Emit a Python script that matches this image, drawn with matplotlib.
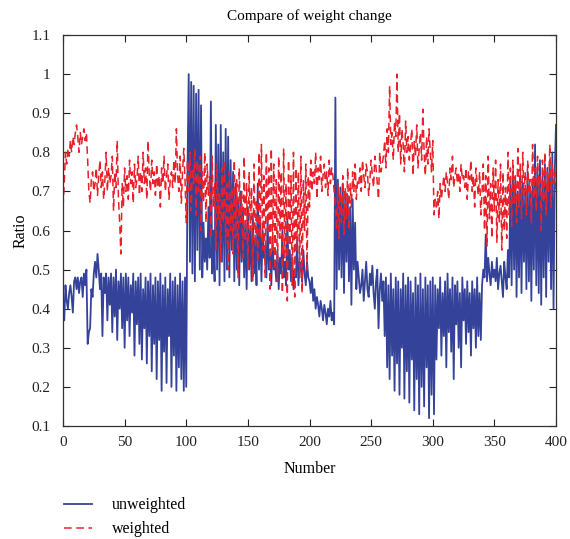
import matplotlib
matplotlib.use("Agg")
import matplotlib.pyplot as plt
import numpy as np

plt.rcParams['font.family'] = ['Liberation Serif', 'DejaVu Serif']

unweighted = [
    .41,.37,.46,.42,.40,.44,.46,.43,.39,.47,
    .48,.45,.48,.44,.47,.48,.43,.49,.46,.50,
    .31,.34,.35,.45,.43,.49,.52,.48,.54,.50,
    .45,.49,.33,.48,.44,.49,.37,.48,.41,.49,
    .34,.48,.38,.50,.32,.47,.40,.49,.35,.48,
    .30,.49,.37,.48,.33,.46,.39,.49,.28,.47,
    .36,.48,.31,.49,.27,.45,.35,.48,.26,.47,
    .33,.49,.24,.46,.31,.48,.22,.47,.32,.49,
    .19,.46,.29,.48,.21,.45,.33,.49,.20,.47,
    .28,.48,.19,.46,.25,.49,.22,.47,.19,.48,
    .20,.75,1.00,.52,.98,.49,.97,.47,.95,.55,
    .96,.50,.92,.48,.62,.52,.58,.50,.66,.53,
    .93,.49,.60,.47,.87,.50,.82,.46,.87,.52,
    .80,.47,.86,.50,.84,.48,.78,.55,.75,.47,
    .72,.50,.68,.46,.70,.52,.65,.48,.62,.45,
    .66,.50,.60,.47,.64,.49,.58,.46,.72,.50,
    .62,.47,.60,.53,.56,.48,.63,.50,.55,.46,
    .58,.50,.52,.47,.55,.45,.53,.49,.60,.48,
    .52,.46,.63,.50,.55,.47,.53,.45,.50,.48,
    .58,.46,.52,.50,.47,.55,.49,.46,.52,.48,
    .47,.44,.48,.42,.45,.40,.43,.41,.38,.42,
    .40,.37,.41,.39,.36,.40,.38,.42,.37,.39,
    .36,.94,.45,.73,.50,.71,.48,.72,.44,.70,
    .52,.69,.47,.66,.41,.68,.50,.62,.45,.52,
    .48,.44,.46,.50,.42,.47,.52,.45,.43,.49,
    .46,.51,.44,.40,.47,.50,.35,.45,.49,.42,
    .47,.33,.48,.25,.46,.22,.49,.28,.45,.19,
    .48,.26,.47,.18,.45,.30,.49,.17,.46,.24,
    .48,.16,.47,.27,.44,.14,.48,.22,.46,.13,
    .49,.20,.45,.15,.48,.25,.46,.12,.47,.18,
    .48,.13,.46,.27,.45,.35,.48,.28,.44,.33,
    .47,.25,.49,.34,.45,.29,.48,.22,.46,.36,
    .47,.30,.44,.25,.48,.37,.45,.31,.47,.34,
    .44,.28,.47,.35,.45,.30,.48,.33,.44,.32,
    .46,.50,.48,.59,.47,.53,.49,.46,.52,.48,
    .50,.47,.53,.45,.49,.51,.47,.43,.52,.48,
    .45,.55,.48,.72,.46,.75,.50,.73,.43,.70,
    .48,.74,.44,.72,.52,.70,.45,.75,.47,.71,
    .42,.73,.50,.82,.46,.76,.44,.78,.41,.74,
    .48,.77,.43,.76,.52,.78,.45,.80,.40,.75,
    .87,
]

weighted = [
    .66,.72,.80,.77,.81,.79,.83,.80,.84,.82,
    .85,.87,.84,.80,.85,.82,.84,.86,.83,.85,
    .78,.70,.67,.73,.75,.70,.72,.76,.69,.74,
    .78,.71,.75,.68,.73,.80,.70,.76,.72,.74,
    .79,.65,.75,.71,.83,.68,.62,.54,.72,.66,
    .76,.70,.74,.68,.78,.72,.75,.67,.77,.71,
    .73,.79,.69,.75,.70,.80,.72,.76,.68,.83,
    .74,.70,.78,.72,.75,.69,.77,.71,.74,.66,
    .76,.72,.79,.70,.74,.77,.68,.73,.75,.71,
    .78,.72,.86,.74,.70,.79,.67,.75,.81,.73,
    .62,.78,.70,.80,.65,.76,.72,.81,.64,.78,
    .70,.79,.60,.75,.67,.80,.62,.77,.69,.74,
    .58,.79,.66,.72,.55,.77,.63,.70,.52,.76,
    .62,.78,.57,.72,.50,.75,.60,.71,.54,.78,
    .58,.73,.48,.76,.62,.70,.53,.79,.57,.72,
    .50,.75,.60,.71,.47,.77,.56,.68,.52,.80,
    .58,.82,.55,.74,.48,.80,.60,.76,.45,.81,
    .55,.77,.50,.73,.47,.79,.58,.75,.44,.81,
    .53,.72,.42,.78,.56,.74,.46,.80,.43,.76,
    .55,.75,.48,.79,.44,.73,.60,.77,.50,.74,
    .66,.78,.70,.75,.72,.80,.68,.76,.73,.79,
    .70,.74,.77,.71,.75,.69,.78,.72,.76,.74,
    .70,.66,.60,.72,.58,.70,.62,.74,.59,.71,
    .63,.76,.60,.72,.66,.75,.70,.77,.68,.73,
    .72,.76,.70,.78,.74,.71,.77,.75,.69,.73,
    .78,.74,.71,.79,.76,.72,.68,.80,.75,.77,
    .79,.83,.76,.86,.80,.97,.82,.85,.78,.88,
    .84,1.00,.80,.90,.77,.86,.82,.75,.88,.80,
    .84,.78,.82,.86,.74,.83,.79,.87,.76,.81,
    .85,.78,.91,.80,.74,.84,.77,.86,.80,.75,
    .83,.64,.68,.66,.70,.63,.72,.68,.71,.74,
    .70,.75,.72,.68,.76,.73,.79,.71,.74,.76,
    .72,.75,.70,.77,.73,.74,.71,.76,.68,.75,
    .73,.78,.70,.74,.66,.76,.72,.69,.75,.64,
    .70,.77,.60,.74,.56,.79,.63,.72,.58,.76,
    .65,.78,.57,.73,.62,.77,.55,.75,.60,.71,
    .58,.80,.64,.76,.61,.78,.67,.74,.62,.81,
    .66,.77,.63,.80,.69,.75,.64,.78,.70,.73,
    .62,.82,.68,.76,.65,.79,.71,.74,.60,.78,
    .67,.80,.64,.75,.70,.82,.66,.77,.72,.75,
    .70,
]

x_ticks = [0, 50, 100, 150, 200, 250, 300, 350, 400]
y_ticks = [0.1, 0.2, 0.3, 0.4, 0.5, 0.6, 0.7, 0.8, 0.9, 1.0, 1.1]
y_tick_labels = ["0.1", "0.2", "0.3", "0.4", "0.5", "0.6", "0.7", "0.8", "0.9", "1", "1.1"]

x = np.arange(len(unweighted))

fig = plt.figure(figsize=(5.70, 5.39), dpi=100)
ax = fig.add_axes([63/570, 1-426/539, (556-63)/570, (426-35)/539])

l1, = ax.plot(x, unweighted, color='#34429a', lw=1.3, label='unweighted')
l2, = ax.plot(np.arange(len(weighted)), weighted, color='#e8202a', lw=1.1,
              dashes=(5, 3), label='weighted')

ax.set_xlim(0, 400)
ax.set_ylim(0.1, 1.1)
ax.set_xticks(x_ticks)
ax.set_yticks(y_ticks)
ax.set_yticklabels(y_tick_labels)
ax.tick_params(direction='in', top=True, right=True, length=5, width=0.8,
               labelsize=11, colors='#222222')
ax.tick_params(axis='x', pad=7)
ax.tick_params(axis='y', pad=9)
for s in ax.spines.values():
    s.set_linewidth(0.9)
    s.set_color('#333333')
ax.set_xlabel('Number', fontsize=11.5, labelpad=9)
ax.set_ylabel('Ratio', fontsize=11.5, labelpad=2)
ax.set_title('Compare of weight change', fontsize=11, pad=11)

fig.legend(handles=[l1, l2], loc='upper left', bbox_to_anchor=(58/570, 1-491/539),
           frameon=False, fontsize=11.5, handlelength=1.7, handletextpad=1.3,
           labelspacing=0.5, borderaxespad=0)

fig.savefig('out.png', dpi=100)
